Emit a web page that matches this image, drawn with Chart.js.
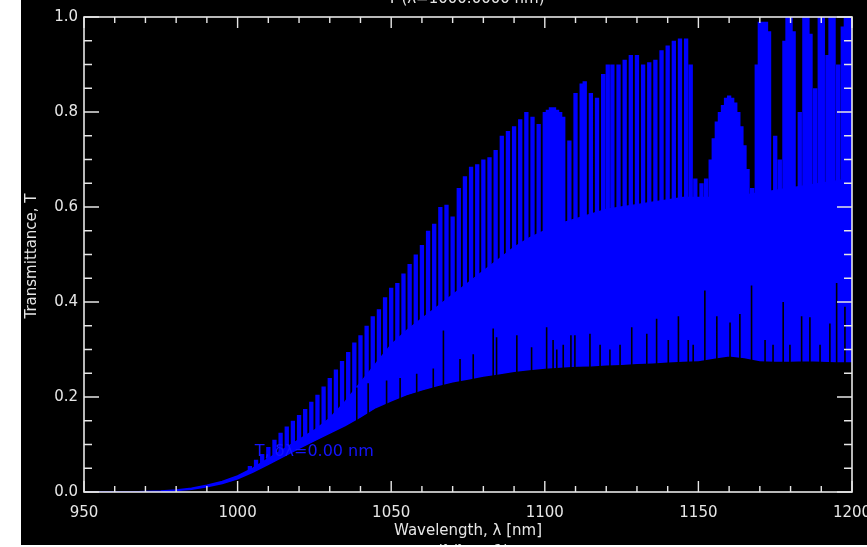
<!DOCTYPE html>
<html><head><meta charset="utf-8">
<script src="https://cdn.jsdelivr.net/npm/chart.js@4.4.1/dist/chart.umd.min.js"></script>
<style>
html,body{margin:0;padding:0;background:#fff;width:867px;height:547px;overflow:hidden}
#wrap{position:absolute;left:21px;top:0;width:846px;height:545px;background:#000}
canvas{display:block}
</style></head><body>
<div id="wrap"><canvas id="c" width="846" height="545"></canvas></div>
<script>
// ---- data ----
// lower edge and top of the solid (unresolved) blue band
const bandNm   = [950,955,960,965,970,975,980,985,990,995,1000,1005,1010,1015,1020,1025,1030,1035,1040,1045,1050,1055,1060,1065,1070,1075,1080,1085,1090,1095,1100,1105,1110,1115,1120,1125,1130,1135,1140,1145,1150,1155,1160,1165,1170,1175,1180,1185,1190,1195,1200];
const floorT   = [0,0,0,0,0,0.001,0.003,0.006,0.011,0.018,0.028,0.042,0.058,0.075,0.092,0.108,0.124,0.140,0.158,0.178,0.192,0.205,0.215,0.224,0.232,0.238,0.244,0.249,0.254,0.258,0.261,0.263,0.265,0.266,0.268,0.269,0.271,0.272,0.274,0.276,0.277,0.282,0.287,0.283,0.277,0.276,0.276,0.277,0.276,0.275,0.275];
const bandTopT = [0,0,0,0,0.001,0.002,0.004,0.008,0.014,0.022,0.034,0.05,0.07,0.09,0.11,0.13,0.155,0.19,0.23,0.27,0.31,0.34,0.365,0.39,0.415,0.44,0.465,0.49,0.515,0.535,0.55,0.565,0.575,0.585,0.595,0.60,0.605,0.61,0.615,0.62,0.62,0.62,0.62,0.625,0.63,0.635,0.64,0.645,0.65,0.655,0.66];
// resolved fringe peaks (spikes) rising above the band
const spikeNm  = [1004,1006,1008,1010,1012,1014,1016,1018,1020,1022,1024,1026,1028,1030,1032,1034,1036,
  1038,1040,1042,1044,1046,1048,1050,1052,1054,1056,1058,1060,1062,1064,1066,1068,1070,1072,1074,1076,1078,1080,1082,1084,1086,1088,1090,1092,1094,1096,1098,
  1100,1101,1102,1103,1104,1105,1106,1108,1110,1112,1113,1115,1117,1119,1120.5,1122,1124,1126,1128,1130,1132,1134,1136,1138,1140,1142,1144,1146,1147.5,
  1149,1151,1152.5,1154,1155,1156,1157,1158,1159,1160,1161,1162,1163,1164,1165,1166,1167.5,
  1169,1170,1171,1172,1173,1175,1176.5,1178,1179,1180,1181,1183,1184.5,1185.5,1186.5,1188,1189.5,1190.5,1192,1193,1194,1195.5,1197,1198,1199,1200];
const spikeTopT= [0.055,0.068,0.08,0.095,0.11,0.125,0.138,0.15,0.162,0.175,0.19,0.205,0.222,0.24,0.258,0.276,0.295,
  0.315,0.33,0.35,0.37,0.385,0.41,0.43,0.44,0.46,0.48,0.50,0.52,0.55,0.565,0.60,0.605,0.58,0.64,0.665,0.685,0.69,0.70,0.705,0.72,0.75,0.76,0.77,0.785,0.80,0.79,0.775,
  0.80,0.805,0.81,0.81,0.805,0.80,0.79,0.74,0.84,0.86,0.865,0.84,0.83,0.88,0.90,0.90,0.90,0.91,0.92,0.92,0.90,0.905,0.91,0.93,0.94,0.95,0.955,0.955,0.90,
  0.66,0.65,0.66,0.70,0.745,0.78,0.80,0.815,0.83,0.835,0.83,0.82,0.80,0.77,0.73,0.68,0.64,
  0.90,0.99,0.99,0.99,0.97,0.75,0.70,0.95,1.0,1.0,0.97,0.80,1.0,1.0,0.965,0.85,1.0,1.0,0.92,1.0,1.0,0.90,0.98,1.0,1.0,1.0];
// thin dark gaps rising from the lower edge into the band
const notchNm  = [1038.8,1042.5,1048.5,1052.9,1058.3,1063.7,1067,1072.4,1076.7,1083.2,1084.3,1090.9,1095.7,1100.6,1102.7,1103.9,1106,1108.5,1109.8,1114.7,1118,1121.2,1124.5,1128.3,1133.2,1136.4,1140.2,1143.5,1146.7,1148.3,1152.1,1156,1160.3,1163.5,1167.3,1171.7,1174.3,1177.6,1179.8,1183.6,1186.3,1189.6,1192.8,1195,1197.7];
const notchTopT= [0.22,0.229,0.235,0.24,0.249,0.26,0.34,0.28,0.29,0.344,0.326,0.33,0.305,0.347,0.32,0.30,0.31,0.33,0.33,0.333,0.31,0.30,0.31,0.347,0.333,0.365,0.32,0.37,0.32,0.31,0.424,0.37,0.357,0.375,0.435,0.32,0.31,0.40,0.31,0.37,0.368,0.31,0.355,0.44,0.39];
// axis tick labels
const xMajor = [950,1000,1050,1100,1150,1200];
const yMajor = [0,0.2,0.4,0.6,0.8,1.0];
const yLabels = ['0.0','0.2','0.4','0.6','0.8','1.0'];

const BLUE = '#0000ff', AXIS = '#e6e6e6', FONT = '"DejaVu Sans", sans-serif';

const floorData = bandNm.map((x,i)=>({x, y: floorT[i]}));
const topData   = bandNm.map((x,i)=>({x, y: bandTopT[i]}));
const spikeData = [];
spikeNm.forEach((x,i)=>{ spikeData.push({x, y:0}, {x, y:spikeTopT[i]}, {x, y:null}); });
const notchData = [];
notchNm.forEach((x,i)=>{ notchData.push({x, y:0}, {x, y:notchTopT[i]}, {x, y:null}); });

const boxPlugin = {
  id: 'idlBox',
  afterDatasetsDraw(chart){
    const {ctx, chartArea:a, scales:{x, y}} = chart;
    ctx.save();
    ctx.strokeStyle = AXIS;
    ctx.lineWidth = 1.6;
    ctx.strokeRect(a.left, a.top, a.right - a.left, a.bottom - a.top);
    ctx.lineWidth = 1.4;
    ctx.beginPath();
    x.ticks.forEach(t=>{
      const p = x.getPixelForValue(t.value);
      const L = xMajor.includes(t.value) ? 11 : 6;
      ctx.moveTo(p, a.bottom); ctx.lineTo(p, a.bottom - L);
      ctx.moveTo(p, a.top); ctx.lineTo(p, a.top + L);
    });
    y.ticks.forEach(t=>{
      const p = y.getPixelForValue(t.value);
      const L = yMajor.some(m=>Math.abs(m - t.value) < 1e-6) ? 15 : 8;
      ctx.moveTo(a.left, p); ctx.lineTo(a.left + L, p);
      ctx.moveTo(a.right, p); ctx.lineTo(a.right - L, p);
    });
    ctx.stroke();

    // texts
    ctx.fillStyle = AXIS;
    ctx.font = '15px ' + FONT;
    ctx.textAlign = 'center';
    ctx.textBaseline = 'middle';
    const cx = (a.left + a.right) / 2;
    ctx.fillText('Wavelength, λ [nm]', cx, 531);
    ctx.textBaseline = 'alphabetic';
    ctx.fillText('T (λ=1000.0000 nm)', cx - 2, 3);
    ctx.fillText('(λ/λ₀ − 1)', cx + 5, 556);
    ctx.save();
    ctx.translate(11, 256);
    ctx.rotate(-Math.PI/2);
    ctx.textBaseline = 'middle';
    ctx.fillText('Transmittance, T', 0, 0);
    ctx.restore();

    ctx.fillStyle = '#1414ff';
    ctx.textAlign = 'left';
    ctx.textBaseline = 'middle';
    ctx.font = '16px ' + FONT;
    ctx.fillText('T, δλ=0.00 nm', x.getPixelForValue(1005.6), y.getPixelForValue(0.084));
    ctx.restore();
  }
};

new Chart(document.getElementById('c'), {
  type: 'line',
  data: { datasets: [
    {label:'spikes', data: spikeData, borderColor: BLUE, borderWidth: 4.3, pointRadius: 0, fill: false, clip: 0, order: 4, spanGaps: false, tension: 0},
    {label:'floor', data: floorData, borderColor: BLUE, borderWidth: 1.5, backgroundColor: '#000', fill: 'origin', pointRadius: 0, order: 3, tension: 0},
    {label:'band', data: topData, borderColor: BLUE, borderWidth: 1.5, backgroundColor: BLUE, fill: 1, pointRadius: 0, order: 2, tension: 0},
    {label:'notches', data: notchData, borderColor: '#000', borderWidth: 1.6, pointRadius: 0, fill: false, clip: 0, order: 1, spanGaps: false}
  ]},
  options: {
    responsive: false, devicePixelRatio: 1, animation: false,
    layout: { padding: { top: 17, right: 15, left: 0, bottom: 0 } },
    plugins: { legend: {display:false}, tooltip: {enabled:false}, title: {display:false} },
    scales: {
      x: { type: 'linear', min: 950, max: 1200,
        grid: { display: false, drawTicks: false }, border: { display: false },
        ticks: { stepSize: 10, autoSkip: false, maxRotation: 0, padding: 12, color: AXIS, font: {family: FONT, size: 15},
          callback: v => xMajor.includes(v) ? String(v) : '' },
        afterFit: s => { s.height = 53; s.paddingLeft = 0; s.paddingRight = 0; }
      },
      y: { type: 'linear', min: 0, max: 1,
        grid: { display: false, drawTicks: false }, border: { display: false },
        ticks: { stepSize: 0.05, autoSkip: false, padding: 6, color: AXIS, font: {family: FONT, size: 15},
          callback: v => { const k = yMajor.findIndex(m=>Math.abs(m - v) < 1e-6); return k < 0 ? '' : yLabels[k]; } },
        afterFit: s => { s.width = 63; s.paddingTop = 0; s.paddingBottom = 0; }
      }
    }
  },
  plugins: [boxPlugin]
});
</script></body></html>
